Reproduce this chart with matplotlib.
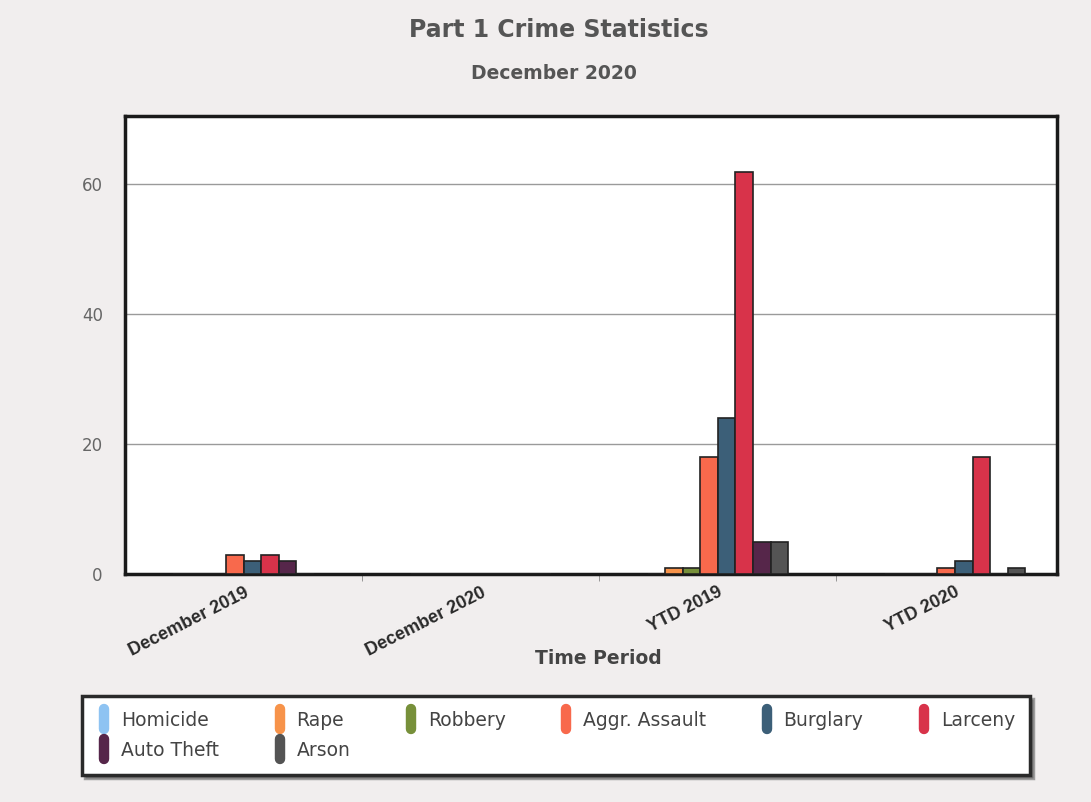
import numpy as np
import matplotlib
matplotlib.use("Agg")
import matplotlib.pyplot as plt
from matplotlib.lines import Line2D
from matplotlib.markers import MarkerStyle

# data
periods = ["December 2019", "December 2020", "YTD 2019", "YTD 2020"]
crimes = ["Homicide", "Rape", "Robbery", "Aggr. Assault", "Burglary",
          "Larceny", "Auto Theft", "Arson"]
homicide = [0, 0, 0, 0]
rape = [0, 0, 1, 0]
robbery = [0, 0, 1, 0]
aggr_assault = [3, 0, 18, 1]
burglary = [2, 0, 24, 2]
larceny = [3, 0, 62, 18]
auto_theft = [2, 0, 5, 0]
arson = [0, 0, 5, 1]
yticks = [0, 20, 40, 60]

series = [homicide, rape, robbery, aggr_assault, burglary, larceny, auto_theft, arson]
colors = ["#8ec3f2", "#f7934a", "#77903a", "#f8694c", "#3c5f78",
          "#d8334a", "#56264a", "#545454"]

fig = plt.figure(figsize=(10.91, 8.02), dpi=100, facecolor="#f1eeee")
ax = fig.add_axes([0.1146, 0.284, 0.8542, 0.571])
ax.set_facecolor("white")

x = np.arange(len(periods))
w = 0.074
for i, (vals, c) in enumerate(zip(series, colors)):
    ax.bar(x + (i - 3.5) * w, vals, width=w, color=c, edgecolor="#222222",
           linewidth=1.2, zorder=3)

ax.set_xlim(-0.5, 3.43)
ax.set_ylim(0, 70.5)
ax.set_yticks(yticks)
ax.set_yticklabels([str(v) for v in yticks], fontsize=12, color="#666666")
ax.tick_params(axis="y", length=0, pad=16)
ax.yaxis.grid(True, color="#9a9a9a", linewidth=1.0, zorder=0)

ax.set_xticks(x)
ax.set_xticklabels(periods, rotation=27, ha="right", rotation_mode="anchor",
                   fontsize=13, fontweight="bold", color="#2a2a2a",
                   family="Liberation Sans")
ax.tick_params(axis="x", length=0, pad=7)
ax.set_xticks(np.arange(0.5, 3.0, 1.0), minor=True)
ax.tick_params(axis="x", which="minor", length=5, color="#888888", direction="out")

for s in ax.spines.values():
    s.set_linewidth(2.5)
    s.set_color("#1a1a1a")

ax.set_xlabel("Time Period", fontsize=13.5, fontweight="bold", color="#444444")
ax.xaxis.set_label_coords(0.5075, -0.183)
ax.xaxis.label.set_va("center")

fig.text(0.512, 0.962, "Part 1 Crime Statistics", ha="center", va="center",
         fontsize=17, fontweight="bold", color="#555555")
fig.text(0.508, 0.908, "December 2020", ha="center", va="center",
         fontsize=13.5, fontweight="bold", color="#555555")

# legend: row-major order for a 6-column layout
pill = MarkerStyle("|", capstyle="round")
handles = [Line2D([0], [0], linestyle="none", marker=pill, markersize=14,
                  markeredgewidth=7.5, color=c) for c in colors]
order = [0, 6, 1, 7, 2, 3, 4, 5]
leg = fig.legend([handles[k] for k in order], [crimes[k] for k in order],
                 loc="center", bbox_to_anchor=(0.075, 0.03, 0.869, 0.106),
                 mode="expand", borderaxespad=0, ncol=6, fontsize=13.5,
                 frameon=True, fancybox=False, shadow=True, handlelength=0.8,
                 handletextpad=0.5, labelspacing=0.6, borderpad=0.8)
for t in leg.get_texts():
    t.set_color("#444444")
fr = leg.get_frame()
fr.set_edgecolor("#2a2a2a")
fr.set_linewidth(2.5)
fr.set_facecolor("white")

fig.savefig("out.png", dpi=100, facecolor=fig.get_facecolor())
